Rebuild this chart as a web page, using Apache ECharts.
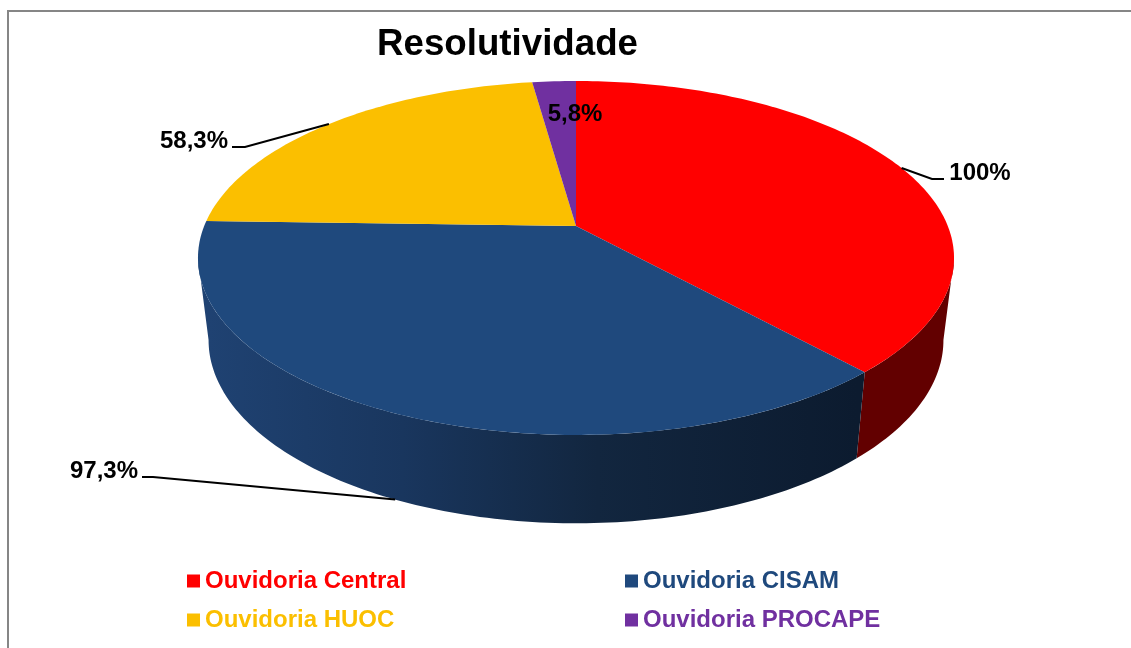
<!DOCTYPE html>
<html>
<head>
<meta charset="utf-8">
<title>Resolutividade</title>
<style>
html,body{margin:0;padding:0;background:#fff;}
#chart{width:1131px;height:648px;}
</style>
<script src="https://cdn.jsdelivr.net/npm/echarts@6/dist/echarts.min.js"></script>
</head>
<body>
<div id="chart"></div>
<script>
const categories=["Ouvidoria Central","Ouvidoria CISAM","Ouvidoria HUOC","Ouvidoria PROCAPE"];
const values=[100,97.3,58.3,5.8];
const valueLabels=["100%","97,3%","58,3%","5,8%"];

const colors=["#FF0000","#1F497D","#FBBF00","#7030A0"];
const wallColors=[
    [[0,"#620000"],[1,"#620000"]],
    [[0,"#1F4272"],[0.3,"#19365E"],[0.6,"#12263F"],[1,"#0C1B2F"]],
    [[0,"#7F6000"],[1,"#7F6000"]],
    [[0,"#381850"],[1,"#381850"]]
];

// pie projection, the picture is a tilted disc so the centre sits above the middle of the ellipse
const apex={x:576,y:226};
const scaleX=371.8,scaleY=171.2,tilt=0.1807;
// lower rim of the wall
const rimScaleX=0.972,rimScaleY=1.035,rimDrop=81;

// leader lines: elbow and end on the page, label centre too
const labelLayout=[
    {elbow:[932,179],end:[944,179],text:[980,173]},
    {elbow:[153,477],end:[142,477],text:[104,471],onWall:true},
    {elbow:[245,147],end:[232,147],text:[194,141]},
    {text:[575,114]}
];

const total=values.reduce((a,b)=>a+b,0);
const starts=[];
values.reduce((sum,v,i)=>{starts[i]=sum;return sum+v;},0);

function topPoint(deg){
    const t=deg*Math.PI/180;
    const u=Math.sin(t),v=-Math.cos(t);
    const w=1-tilt*v;
    return [apex.x+scaleX*u/w,apex.y+scaleY*v/w];
}
function rimPoint(deg){
    const p=topPoint(deg);
    return [apex.x+(p[0]-apex.x)*rimScaleX,apex.y+(p[1]-apex.y)*rimScaleY+rimDrop];
}
function arc(fn,from,to){
    const pts=[];
    const n=Math.max(2,Math.ceil(Math.abs(to-from)));
    for(let i=0;i<=n;i++){
        pts.push(fn(from+(to-from)*i/n));
    }
    return pts;
}

// the wall shows only between the two widest points of the ellipse
const wallStart=Math.acos(-tilt)*180/Math.PI;
const wallEnd=360-wallStart;

function renderSlice(index){
    const a0=starts[index]/total*360;
    const a1=(starts[index]+values[index])/total*360;
    const mid=(a0+a1)/2;
    const children=[];

    const w0=Math.max(a0,wallStart),w1=Math.min(a1,wallEnd);
    if(w1>w0){
        const stops=wallColors[index].map(s=>({offset:s[0],color:s[1]}));
        children.push({
            type:"polygon",
            z2:1,
            shape:{points:arc(topPoint,w0,w1).concat(arc(rimPoint,w1,w0))},
            style:{
                // wall shade runs from the left edge to the right edge of the slice
                fill:new echarts.graphic.LinearGradient(
                    rimPoint(w1)[0],0,rimPoint(w0)[0],0,stops,true)
            }
        });
    }
    children.push({
        type:"polygon",
        z2:2,
        shape:{points:[[apex.x,apex.y]].concat(arc(topPoint,a0,a1))},
        style:{fill:colors[index]}
    });

    const lay=labelLayout[index];
    if(lay.elbow){
        const anchor=lay.onWall?rimPoint(mid):topPoint(mid);
        children.push({
            type:"polyline",
            z2:3,
            shape:{points:[anchor,lay.elbow,lay.end]},
            style:{fill:null,stroke:"#000",lineWidth:2}
        });
    }
    children.push({
        type:"text",
        z2:4,
        x:lay.text[0],
        y:lay.text[1],
        style:{
            text:valueLabels[index],
            fill:"#000",
            font:"bold 24px 'Liberation Sans'",
            align:"center",
            verticalAlign:"middle"
        }
    });
    return {type:"group",children:children};
}

const chart=echarts.init(document.getElementById("chart"));
chart.setOption({
    animation:false,
    backgroundColor:"#fff",
    title:{
        text:"Resolutividade",
        left:377,
        top:26,
        padding:0,
        textStyle:{fontFamily:"Liberation Sans",fontWeight:"bold",fontSize:36.7,color:"#000"}
    },
    legend:[0,1].map(col=>({
        orient:"vertical",
        left:col===0?187:625,
        top:569,
        padding:0,
        icon:"rect",
        itemWidth:13,
        itemHeight:13,
        itemGap:15,
        selectedMode:false,
        data:[col,col+2].map(i=>({
            name:categories[i],
            textStyle:{
                color:colors[i],
                fontFamily:"Liberation Sans",
                fontWeight:"bold",
                fontSize:24
            }
        }))
    })),
    graphic:[{
        type:"rect",
        silent:true,
        z:-1,
        shape:{x:8,y:11,width:1300,height:800},
        style:{fill:null,stroke:"#868686",lineWidth:2}
    }],
    series:categories.map((name,i)=>({
        type:"custom",
        name:name,
        coordinateSystem:"none",
        silent:true,
        itemStyle:{color:colors[i]},
        data:[values[i]],
        renderItem:()=>renderSlice(i)
    }))
});
window.addEventListener("resize",()=>chart.resize());
</script>
</body>
</html>
